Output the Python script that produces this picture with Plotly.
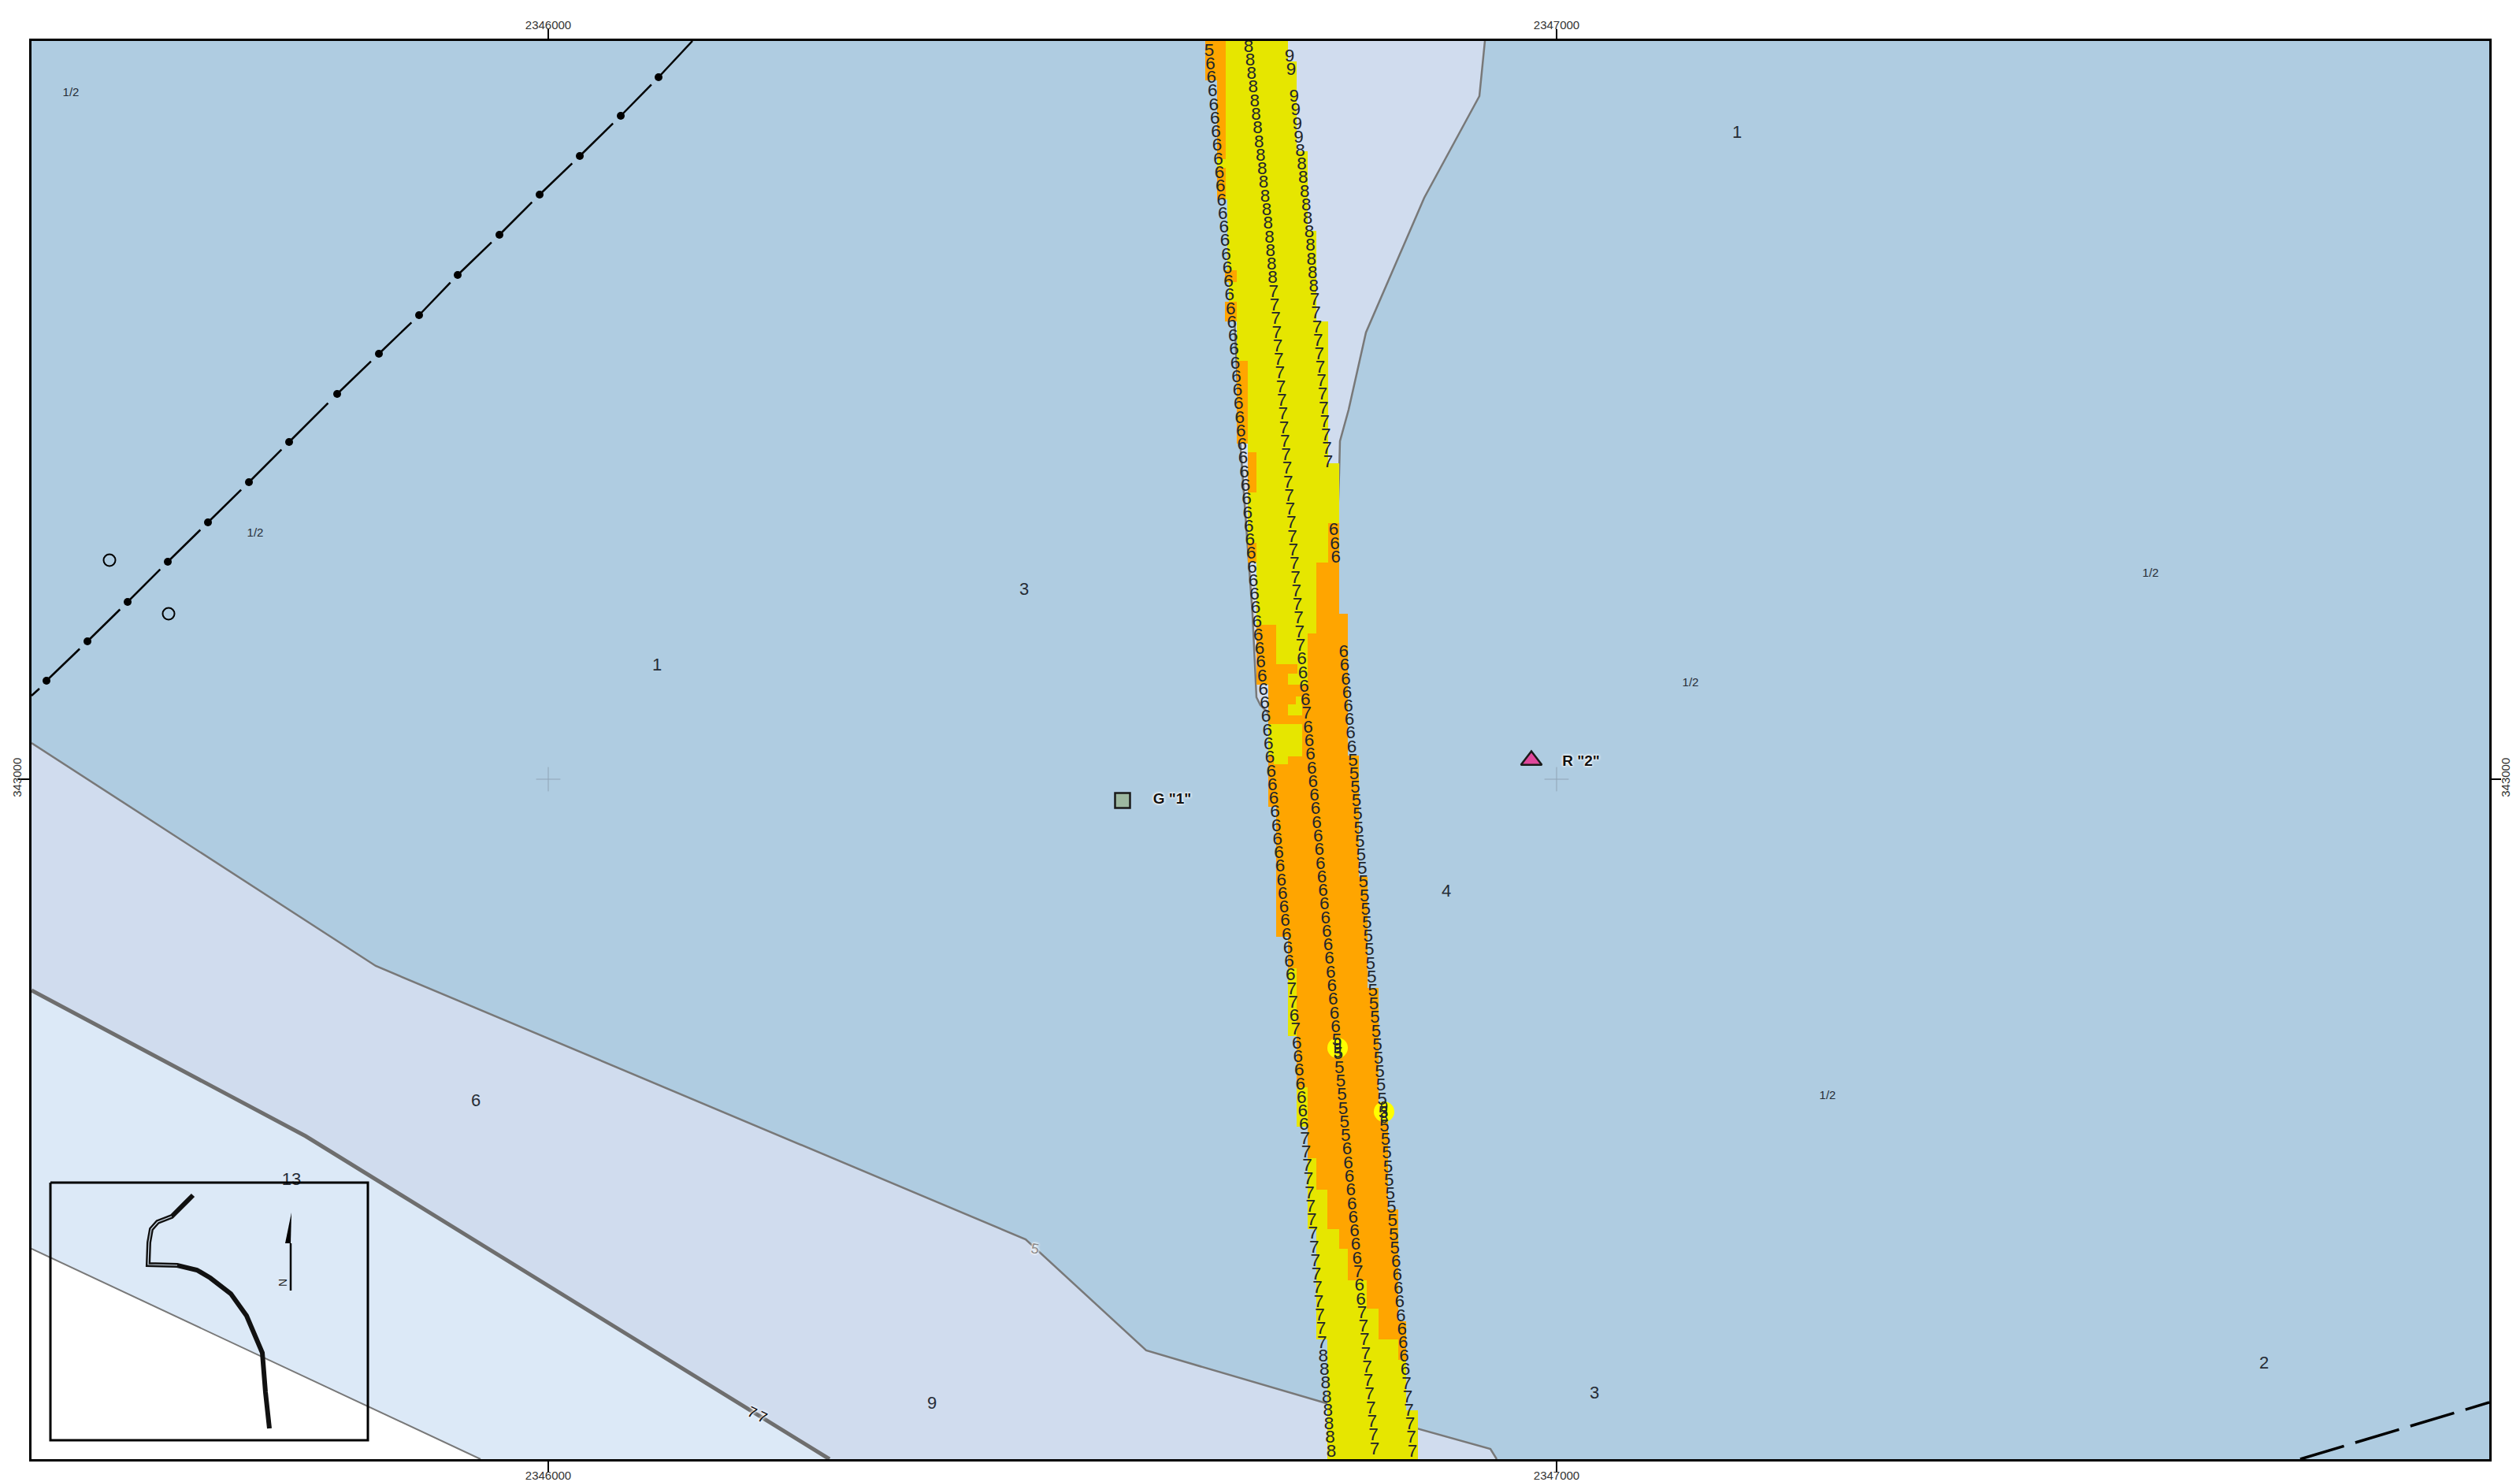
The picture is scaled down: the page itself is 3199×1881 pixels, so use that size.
import numpy as np
import plotly.graph_objects as go

# ---- georeferencing of the digitised sheet (sheet pixels -> grid metres)
TICK_E = [2346000, 2347000]
TICK_N = [343000]
def E(sx): return 2346000 + (np.asarray(sx, float) - 696) / 1.28
def N(sy): return 343000 + (989 - np.asarray(sy, float)) / 1.28

FRAME_X = [40, 3160]
FRAME_Y = [1852, 52]

UPPER_SHOAL = [(1885,52),(1878,122),(1808,251),(1734,422),(1712,520),(1701,560),(1700,600),(1690,905),
               (1610,905),(1600,895),(1595,885),(1590,780),(1575,570),(1562,300),(1550,52)]
LOWER_SHOAL = [(40,943),(477,1226),(1302,1573),(1455,1714),(1680,1780),(1892,1839),(1900,1852),(1053,1852),(388,1442),(40,1257)]
LOWER_SHOAL_EDGE = LOWER_SHOAL[:7]
DEEP_EDGE = [(40,1257),(388,1442),(1053,1852)]
OUTER_ZONE = [(40,1257),(388,1442),(1053,1852),(610,1852),(40,1585)]
LAND = [(40,1585),(610,1852),(40,1852)]
LAND_EDGE = [(40,1585),(610,1852)]

# ---- surveyed swath
SWATH = [(1530,52),(1530,102),(1545,102),(1545,253),(1558,253),(1558,343),(1555,343),(1555,358),(1560,358),(1560,383),
         (1555,383),(1555,408),(1570,408),(1570,563),(1584,563),(1584,714),(1595,714),(1595,869),(1610,869),(1610,960),
         (1617,960),(1617,970),(1610,970),(1610,1024),(1620,1024),(1620,1189),(1635,1189),(1635,1315),(1646,1315),(1646,1430),
         (1660,1430),(1660,1560),(1671,1560),(1671,1700),(1685,1700),(1685,1852),(1800,1852),(1800,1790),(1785,1790),(1785,1677),
         (1775,1677),(1775,1535),(1762,1535),(1762,1400),(1750,1400),(1750,1254),(1736,1254),(1736,1113),(1725,1113),(1725,959),
         (1711,959),(1711,779),(1700,779),(1700,588),(1686,588),(1686,408),(1671,408),(1671,293),(1660,293),(1660,192),
         (1646,192),(1646,78),(1635,78),(1635,52)]
ORANGE_PATCHES = [
    [(1530,52),(1556,52),(1556,202),(1545,202),(1545,102),(1530,102)],
    [(1545,213),(1556,213),(1556,253),(1545,253)],
    [(1555,343),(1570,343),(1570,358),(1555,358)],
    [(1555,383),(1570,383),(1570,408),(1555,408)],
    [(1570,458),(1584,458),(1584,563),(1570,563)],
    [(1584,574),(1595,574),(1595,625),(1584,625)],
    [(1584,689),(1595,689),(1595,714),(1584,714)],
    [(1686,664),(1700,664),(1700,779),(1711,779),(1711,959),(1725,959),(1725,1113),(1736,1113),(1736,1254),(1750,1254),
     (1750,1400),(1762,1400),(1762,1535),(1775,1535),(1775,1677),(1785,1677),(1785,1726),(1775,1726),(1775,1700),(1750,1700),
     (1750,1661),(1735,1661),(1735,1625),(1711,1625),(1711,1585),(1700,1585),(1700,1560),(1685,1560),(1685,1510),(1671,1510),
     (1671,1470),(1660,1470),(1660,1380),(1646,1380),(1646,1229),(1635,1229),(1635,1189),(1620,1189),(1620,1024),(1610,1024),
     (1610,869),(1595,869),(1595,793),(1620,793),(1620,843),(1660,843),(1660,804),(1671,804),(1671,714),(1686,714)],
]
YELLOW_PATCHES = [
    [(1610,919),(1653,919),(1653,960),(1635,960),(1635,970),(1617,970),(1617,960),(1610,960)],
    [(1635,855),(1650,855),(1650,869),(1635,869)],
    [(1635,894),(1653,894),(1653,908),(1635,908)],
    [(1645,884),(1652,884),(1652,894),(1645,894)],
    [(1647,843),(1660,843),(1660,869),(1650,869),(1650,855),(1647,855)],
]
DANGER_SPOTS_X = [1698, 1757]
DANGER_SPOTS_Y = [1330, 1411]

# ---- soundings along the three survey lines ('.' = no sounding at that station)
LEFT_SOUNDINGS = ("5666666666" "6666666666" "6666666666" "6666666666" "6666666666" "6666666666"
                  "666666666" "77" "6" "7" "6666666" "7777777777777777" "88888888")
MID_SOUNDINGS = ("888888888888888888" "777777777777777777777777777" "6666" "7"
                 "66666666666666666666666" "5" "5555555" "666666666" "7" "66" "77777777777")
RIGHT_SOUNDINGS = ("99" "." "9999" "88888888888" "7777777777777" "...." "666" "......" "66666666"
                   "5555555555" "5555555555" "5555555555" "5555555" "666666666" "777777")
LEFT_LINE_Y = [65, 762, 1332, 1843];  LEFT_LINE_X = [1535, 1593, 1647, 1690]
MID_LINE_Y = [60, 295, 833, 1840];    MID_LINE_X = [1585, 1611, 1652, 1745]
RIGHT_LINE_Y = [72, 295, 833, 1843];  RIGHT_LINE_X = [1637, 1662, 1706, 1793]
EXTRA_SOUNDINGS = ["9", "9", "3", "9", "3", "8"]
EXTRA_X = [1698, 1698, 1698, 1757, 1757, 1757]
EXTRA_Y = [1326, 1332, 1337, 1406, 1413, 1420]

# ---- area labels
LABEL_TEXT = ["1", "3", "1", "4", "6", "13", "9", "3", "2"]
LABEL_X = [834, 1300, 2205, 1836, 604, 370, 1183, 2024, 2874]
LABEL_Y = [845, 749, 169, 1132, 1398, 1498, 1782, 1769, 1731]
SMALL_TEXT = ["1/2", "1/2", "1/2", "1/2", "1/2"]
SMALL_X = [90, 324, 2730, 2146, 2320]
SMALL_Y = [118, 677, 728, 867, 1391]

# ---- aids and line features
BEACON_DOTS = [(59,864),(111,814),(162,764),(213,713),(264,663),(316,612),(367,561),(428,500),
               (481,449),(532,400),(581,349),(634,298),(685,247),(736,198),(788,147),(836,98)]
BEACON_ENDS = [(40,883),(50,874),(836,98),(879,52)]
OPEN_RINGS_X = [139, 214]
OPEN_RINGS_Y = [711, 779]
CABLE = [(2920,1852),(3160,1780)]
GRID_CROSS_X = [696, 1976]
GRID_CROSS_Y = [989, 989]
GREEN_AID = (1425, 1016); GREEN_LABEL = ('G "1"', 1488, 1015)
RED_AID = (1944, 965);    RED_LABEL = ('R "2"', 2007, 967)

# ---- inset
INSET_BOX = [(64,1501),(467,1501),(467,1828),(64,1828),(64,1501)]
ROUTE = [(245,67),(222,90),(218,94),(200,101),(192,110),(189,127),(188,155),(225,156),(250,162),
         (267,172),(293,192),(313,220),(325,247),(333,267),(337,317),(342,363)]
ARROW_STEM = [(369,1638),(369,1578)]
ARROW_HEAD = [(370,1539),(362,1578),(369,1578)]

FONT = "Liberation Sans"
GREY = "#787878"
INK = "#262c36"

fig = go.Figure()

def xy(pts):
    a = np.array(pts, float)
    return E(a[:, 0]), N(a[:, 1])

def area(pts, fill, line=None, w=0):
    x, y = xy(pts)
    fig.add_trace(go.Scatter(x=x, y=y, mode="lines", fill="toself", fillcolor=fill,
                             line=dict(color=line or fill, width=w), hoverinfo="skip", showlegend=False))

def path(pts, color, w, dash=None):
    x, y = xy(pts)
    fig.add_trace(go.Scatter(x=x, y=y, mode="lines", line=dict(color=color, width=w, dash=dash, shape="linear"),
                             hoverinfo="skip", showlegend=False))

def texts(t, sx, sy, size, color=INK, **font):
    fig.add_trace(go.Scatter(x=E(sx), y=N(sy), mode="text", text=t, textposition="middle center",
                             textfont=dict(family=FONT, size=size, color=color, **font),
                             hoverinfo="skip", showlegend=False))

# areas
area(LOWER_SHOAL, "#D0DCEE")
area(OUTER_ZONE, "#DCE9F7")
area(LAND, "#FFFFFF")
area(UPPER_SHOAL, "#D0DCEE", GREY, 2.5)
path(LOWER_SHOAL_EDGE, GREY, 2.5)
path(DEEP_EDGE, "#6E6E6E", 5)
path(LAND_EDGE, GREY, 2)

# swath
area(SWATH, "#E6E600")
for p in ORANGE_PATCHES:
    area(p, "#FFA500")
for p in YELLOW_PATCHES:
    area(p, "#E6E600")
fig.add_trace(go.Scatter(x=E(DANGER_SPOTS_X), y=N(DANGER_SPOTS_Y), mode="markers",
                         marker=dict(symbol="circle", size=26, color="#FFFF00"), hoverinfo="skip", showlegend=False))

# soundings
for digits, ky, kx in [(LEFT_SOUNDINGS, LEFT_LINE_Y, LEFT_LINE_X),
                       (MID_SOUNDINGS, MID_LINE_Y, MID_LINE_X),
                       (RIGHT_SOUNDINGS, RIGHT_LINE_Y, RIGHT_LINE_X)]:
    rows = np.linspace(ky[0], ky[-1], len(digits))
    cols = np.interp(rows, ky, kx)
    keep = [i for i, d in enumerate(digits) if d != "."]
    texts([digits[i] for i in keep], cols[keep], rows[keep], 22.5, "#22252b")
texts(EXTRA_SOUNDINGS, EXTRA_X, EXTRA_Y, 18, "#22252b")

# beacon line
bx, by = [], []
for a, b in zip(BEACON_DOTS[:-1], BEACON_DOTS[1:]):
    bx += [a[0], a[0] + 0.81 * (b[0] - a[0]), None]
    by += [a[1], a[1] + 0.81 * (b[1] - a[1]), None]
bx += [BEACON_ENDS[0][0], BEACON_ENDS[1][0], None, BEACON_ENDS[2][0], BEACON_ENDS[3][0]]
by += [BEACON_ENDS[0][1], BEACON_ENDS[1][1], None, BEACON_ENDS[2][1], BEACON_ENDS[3][1]]
fig.add_trace(go.Scatter(x=[None if v is None else float(E(v)) for v in bx],
                         y=[None if v is None else float(N(v)) for v in by], mode="lines",
                         line=dict(color="black", width=2.5), hoverinfo="skip", showlegend=False))
dx, dy = xy(BEACON_DOTS)
fig.add_trace(go.Scatter(x=dx, y=dy, mode="markers", marker=dict(color="black", size=10), hoverinfo="skip", showlegend=False))
fig.add_trace(go.Scatter(x=E(OPEN_RINGS_X), y=N(OPEN_RINGS_Y), mode="markers",
                         marker=dict(symbol="circle-open", size=15, color="black", line=dict(width=2)),
                         hoverinfo="skip", showlegend=False))
path(CABLE, "black", 3.5, "58px,15px")

# grid crosses
fig.add_trace(go.Scatter(x=E(GRID_CROSS_X), y=N(GRID_CROSS_Y), mode="markers",
                         marker=dict(symbol="cross-thin", size=22, line=dict(color="#8FA3B5", width=1)),
                         hoverinfo="skip", showlegend=False))

# navigation aids
fig.add_trace(go.Scatter(x=E([GREEN_AID[0]]), y=N([GREEN_AID[1]]), mode="markers",
                         marker=dict(symbol="square", size=19, color="#9DB8A0", line=dict(color="#1a1a1a", width=2.5)),
                         hoverinfo="skip", showlegend=False))
fig.add_trace(go.Scatter(x=E([RED_AID[0]]), y=N([RED_AID[1]]), mode="markers",
                         marker=dict(symbol="triangle-up", size=23, color="#E0479B", line=dict(color="#1a1a1a", width=2.5)),
                         hoverinfo="skip", showlegend=False))
halo = "0 0 3px #ffffff, 0 0 3px #ffffff, 0 0 4px #ffffff"
for lab in (GREEN_LABEL, RED_LABEL):
    texts([lab[0]], [lab[1]], [lab[2]], 19, "#111111", weight="bold", shadow=halo)

# labels
texts(LABEL_TEXT, LABEL_X, LABEL_Y, 22)
texts(SMALL_TEXT, SMALL_X, SMALL_Y, 15)

# inset
path(INSET_BOX, "black", 3)
rx, ry = zip(*ROUTE)
ROUTE_XY = [(x, y + 1450) for x, y in zip(rx, ry)]
path(ROUTE_XY, "#111111", 6)
path(ROUTE_XY[2:8], "#DCE9F7", 1.2)
path(ARROW_STEM, "black", 2.5)
area(ARROW_HEAD, "black")

# dummy on the top/right axes so their labels show
fig.add_trace(go.Scatter(x=[TICK_E[0]], y=[TICK_N[0]], xaxis="x2", yaxis="y2", mode="markers",
                         marker=dict(opacity=0), hoverinfo="skip", showlegend=False))

xrange = [float(E(FRAME_X[0])), float(E(FRAME_X[1]))]
yrange = [float(N(FRAME_Y[0])), float(N(FRAME_Y[1]))]
tickfont = dict(family=FONT, size=15, color="#333333")
xcommon = dict(range=xrange, tickmode="array", tickvals=TICK_E, ticktext=[str(v) for v in TICK_E], ticks="outside",
               ticklen=14, tickwidth=2, tickcolor="black", tickfont=tickfont, showgrid=False, zeroline=False,
               automargin=False)
ycommon = dict(range=yrange, tickmode="array", tickvals=TICK_N, ticktext=[str(v) for v in TICK_N], ticks="outside",
               ticklen=14, tickwidth=2, tickcolor="black", tickfont=tickfont, tickangle=-90, showgrid=False, zeroline=False,
               automargin=False)

def note(text, sx, sy, angle, size, color, **font):
    return dict(x=float(E(sx)), y=float(N(sy)), xref="x", yref="y", text=text, textangle=angle, showarrow=False,
                font=dict(family=FONT, size=size, color=color, **font))

fig.update_layout(
    width=3199, height=1881, autosize=False, showlegend=False,
    margin=dict(l=40, r=39, t=52, b=29, pad=0),
    paper_bgcolor="white", plot_bgcolor="#AFCCE1",
    xaxis=dict(showline=True, mirror=True, linecolor="black", linewidth=3, ticklabelstandoff=-9, **xcommon),
    yaxis=dict(showline=True, mirror=True, linecolor="black", linewidth=3, ticklabelstandoff=-10, **ycommon),
    xaxis2=dict(overlaying="x", side="top", anchor="y", ticklabelstandoff=-6, **xcommon),
    yaxis2=dict(overlaying="y", side="right", anchor="x", ticklabelstandoff=-7, **ycommon),
    annotations=[
        note("N", 359, 1628, -90, 14, "#222222"),
        note("7", 955, 1792, 25, 19, "#111111", shadow=halo),
        note("7", 968, 1798, 25, 19, "#111111", shadow=halo),
        note("5", 1314, 1585, 10, 18, "#8a8a8a", shadow=halo),
    ],
)

fig.write_html("out.html", config=dict(displayModeBar=False),
               post_script="document.body.style.margin='0';document.documentElement.style.overflow='hidden';")
